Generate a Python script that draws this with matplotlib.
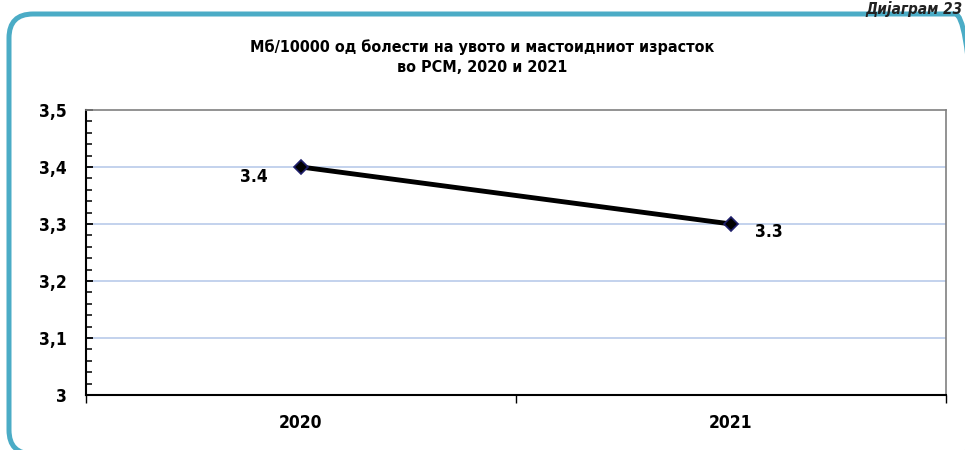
import matplotlib.pyplot as plt
from matplotlib.patches import FancyBboxPatch
from matplotlib.ticker import MultipleLocator, FixedLocator

plt.rcParams['font.family'] = ['Liberation Sans Narrow', 'DejaVu Sans']
plt.rcParams['font.stretch'] = 'condensed'

years = ['2020', '2021']
values = [3.4, 3.3]
value_labels = ['3.4', '3.3']
y_ticks = [3.0, 3.1, 3.2, 3.3, 3.4, 3.5]
y_tick_labels = ['3', '3,1', '3,2', '3,3', '3,4', '3,5']

W, H = 965, 450
fig = plt.figure(figsize=(W / 100, H / 100), dpi=100)

# rounded teal frame (inches), right side runs off the picture
frame = FancyBboxPatch((0.09, -0.04), 9.70, 4.40,
                       boxstyle='round,pad=0,rounding_size=0.24',
                       transform=fig.dpi_scale_trans, fill=False,
                       edgecolor='#4BACC6', linewidth=3.6)
fig.patches.append(frame)

fig.text(962 / W, 1 - 1 / H, 'Дијаграм 23', fontsize=11, fontweight='bold',
         fontstyle='italic', ha='right', va='top', color='#222222')

fig.text(482 / W, 1 - 47 / H, 'Мб/10000 од болести на увото и мастоидниот израсток',
         fontsize=11.5, fontweight='bold', ha='center', va='center')
fig.text(482 / W, 1 - 67 / H, 'во РСМ, 2020 и 2021',
         fontsize=11.5, fontweight='bold', ha='center', va='center')

ax = fig.add_axes([86 / W, 1 - 395 / H, 860 / W, 285 / H])
x = [0, 1]
ax.plot(x, values, color='black', linewidth=3.5, marker='D', markersize=7,
        markerfacecolor='black', markeredgecolor='#1F1F6B', markeredgewidth=1.2, zorder=3)

ax.annotate(value_labels[0], (x[0], values[0]), xytext=(-44, -7), textcoords='offset points',
            fontsize=12.5, fontweight='bold', ha='left', va='center')
ax.annotate(value_labels[1], (x[1], values[1]), xytext=(17, -6), textcoords='offset points',
            fontsize=12.5, fontweight='bold', ha='left', va='center')

ax.set_xlim(-0.5, 1.5)
ax.set_ylim(3.0, 3.5)
ax.set_yticks(y_ticks)
ax.set_yticklabels(y_tick_labels, fontsize=12.5, fontweight='bold')
ax.yaxis.set_minor_locator(MultipleLocator(0.02))
ax.xaxis.set_major_locator(FixedLocator([-0.5, 0.5, 1.5]))
ax.xaxis.set_minor_locator(FixedLocator(x))
ax.set_xticklabels(['', '', ''])
ax.set_xticklabels(years, minor=True, fontsize=12.5, fontweight='bold')
ax.tick_params(axis='x', which='minor', length=0, pad=14)
ax.tick_params(axis='x', which='major', length=6, width=1, direction='out')
ax.tick_params(axis='y', which='major', length=5, width=1.3, direction='in', pad=13.5)
ax.tick_params(axis='y', which='minor', length=4.5, width=1.1, direction='in')

for v in y_ticks[1:-1]:
    ax.axhline(v, color='#B9CBEA', linewidth=1.2, zorder=1)

ax.spines['left'].set_linewidth(1.5)
ax.spines['bottom'].set_linewidth(1.5)
ax.spines['top'].set_color('#808080')
ax.spines['right'].set_color('#808080')
ax.spines['top'].set_linewidth(1.2)
ax.spines['right'].set_linewidth(1.2)

fig.savefig('out.png', dpi=100)
